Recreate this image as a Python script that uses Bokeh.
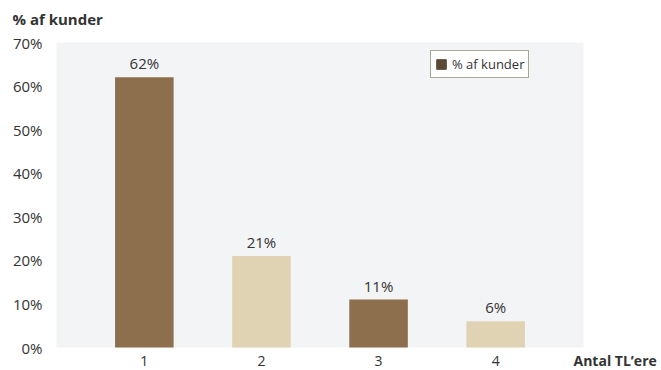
from bokeh.plotting import figure
from bokeh.models import ColumnDataSource, Label, Range1d, Legend, LegendItem, BoxAnnotation
from bokeh.core.properties import value
from bokeh.embed import file_html
from bokeh.resources import INLINE

categories = ["1", "2", "3", "4"]
values = [62, 21, 11, 6]
value_labels = ["62%", "21%", "11%", "6%"]
bar_colors = ["#8d6f4e", "#e0d3b3", "#8d6f4e", "#e0d3b3"]
y_ticks = [0, 10, 20, 30, 40, 50, 60, 70]
y_tick_labels = ["0%", "10%", "20%", "30%", "40%", "50%", "60%", "70%"]
y_title = "% af kunder"
x_title = "Antal TL\u2019ere"
legend_label = "% af kunder"

FONT = "Open Sans"
TXT = "#333333"
W, H = 661, 370
L, R, T, B = 56, 583, 42, 347          # pixel box of the value area
x0, x1 = 0.25, 4.75
y0, y1 = 0, 70
ppx = (R - L) / (x1 - x0)
ppy = (B - T) / (y1 - y0)

xs = [i + 1 for i in range(len(categories))]
src = ColumnDataSource(dict(x=xs, top=values, color=bar_colors, lab=value_labels))

p = figure(width=W, height=H, output_backend="svg", toolbar_location=None,
           x_axis_location=None, y_axis_location=None,
           x_range=Range1d(x0 - L / ppx, x0 + (W - L) / ppx),
           y_range=Range1d(y0 - (H - B) / ppy, y1 + T / ppy),
           min_border=0, min_border_left=0, min_border_right=0,
           min_border_top=0, min_border_bottom=0)
p.border_fill_color = "white"
p.background_fill_color = "white"
p.outline_line_color = None
p.grid.visible = False

p.add_layout(BoxAnnotation(left=x0, right=x1, bottom=y0, top=y1, fill_color="#f3f4f6",
                           fill_alpha=1, line_color=None, level="underlay"))

p.vbar(x="x", top="top", width=0.5, bottom=0, source=src, fill_color="color", line_color=None)
p.text(x="x", y="top", text="lab", source=src, text_align="center", text_baseline="bottom",
       y_offset=-4, text_font_size="15px", text_color=TXT, text_font=value(FONT))

# tick labels
p.text(x=xs, y=[0] * len(xs), text=categories, text_align="center", text_baseline="middle",
       y_offset=13, text_font_size="14px", text_color=TXT, text_font=value(FONT))
p.text(x=[x0] * len(y_ticks), y=y_ticks, text=y_tick_labels, text_align="right",
       text_baseline="middle", x_offset=-14, text_font_size="15px", text_color=TXT,
       text_font=value(FONT))

# titles (screen units from the canvas' bottom-left corner)
p.add_layout(Label(x=12, y=352, x_units="screen", y_units="screen", text=y_title,
                   text_font=FONT, text_font_style="bold", text_font_size="15px",
                   text_color=TXT, text_baseline="middle"))
p.add_layout(Label(x=573, y=10, x_units="screen", y_units="screen", text=x_title,
                   text_font=FONT, text_font_style="bold", text_font_size="14px",
                   text_color=TXT, text_baseline="middle"))

dummy = p.vbar(x=[0], top=[0], width=0, fill_color="#5a4a35", line_color="#5a4a35")
legend = Legend(items=[LegendItem(label=legend_label, renderers=[dummy])],
                location=(430, 292), orientation="vertical")
legend.border_line_color = "#4a5230"
legend.border_line_width = 1
legend.background_fill_color = "white"
legend.background_fill_alpha = 1
legend.label_text_font = FONT
legend.label_text_font_size = "13px"
legend.label_text_color = TXT
legend.glyph_width = 12
legend.glyph_height = 12
legend.padding = 4
legend.margin = 0
legend.label_standoff = 5
legend.label_height = 12
legend.spacing = 0
p.add_layout(legend, "center")

open("out.html", "w").write(file_html(p, INLINE))
